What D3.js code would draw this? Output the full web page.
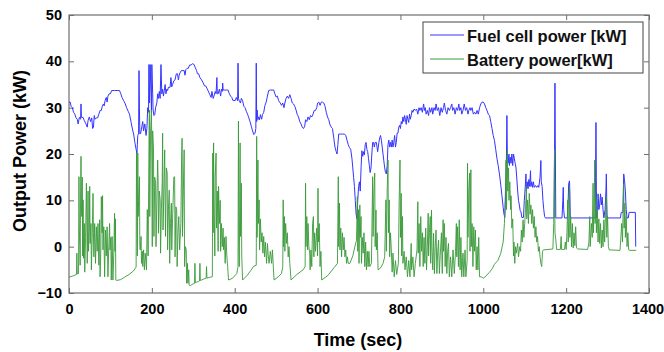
<!DOCTYPE html>
<html>
<head>
<meta charset="utf-8">
<script src="https://cdn.jsdelivr.net/npm/d3@7.9.0/dist/d3.min.js"></script>
<style>
  body { margin: 0; background: #fff; }
  svg { display: block; font-family: "Liberation Sans", Arial, sans-serif; }
</style>
</head>
<body>
<svg id="chart" width="664" height="352"></svg>
<script>
// axis ticks
const xTicks = [0, 200, 400, 600, 800, 1000, 1200, 1400];
const yTicks = [-10, 0, 10, 20, 30, 40, 50];
const seriesNames = ['Fuel cell power [kW]', 'Battery power[kW]'];

// fuel cell power, [time s, kW]
const fuelCell = [
  [0,31.2],[3,31.2],[5,30.3],[8,30],[11,29],[14,28.6],[17,27.8],[20,27.5],[22,26.5],[25,27.9],[28,27.5],[29,30.8],[30,27.9],
  [34,27.9],[37,27.2],[41,26.5],[44,25.8],[46,27.2],[49,28],[52,27],[55,27.8],[57,25.5],[59,25.8],[61,28.3],[63,27.5],
  [66,27.8],[69,27.8],[72,28.6],[75,29.4],[78,29.4],[80,30.2],[83,30.8],[85,30.4],[87,31.5],[90,32.2],[92,31.2],[94,32.5],
  [97,33],[100,33],[103,33.7],[110,33.7],[118,33.7],[122,33.7],[125,33],[128,32.2],[132,31.5],[136,30.8],[139,30],
  [143,29.2],[146,28.6],[150,26.8],[153,25.4],[156,24.3],[159,22.5],[162,21],[164,20],[165,22],[166,24],[168,24.5],
  [169,38],[170,30],[171,24.3],[173,24.5],[176,26],[178,27],[180,25],[183,26.5],[186,24],[188,25.5],[190,30],[192,29],
  [193,39.3],[194,31],[196,39.3],[198,33],[199,29],[200,39.3],[202,33],[203,29.5],[205,28.3],[207,28.5],[209,30],
  [212,31],[214,33],[216,32],[218,33.5],[220,32],[222,39.3],[224,33],[226,34],[228,32.5],[230,33.7],[232,35],[234,33],
  [236,34],[238,33.7],[240,34.4],[244,34.4],[246,36.5],[248,34.5],[250,35],[253,35.8],[256,36],[259,37.3],[262,37.3],
  [264,36],[266,37],[268,37.5],[271,38],[275,38],[278,38],[280,37],[282,38.2],[285,38.5],[288,38.5],[291,39.2],
  [295,39.2],[298,39.5],[302,39.3],[305,38.6],[308,38],[310,37.3],[313,37.3],[316,36.5],[320,36],[323,35.5],[327,34.7],
  [330,34.7],[334,34],[337,33.4],[340,32.8],[343,32.2],[345,33.5],[348,32],[350,32.5],[353,33.5],[355,33],[357,36.5],
  [358,33],[360,33],[363,34],[366,32.5],[368,34],[370,33.5],[371,35.3],[372,33.8],[376,33.8],[380,33.8],[384,33.8],
  [387,33],[390,32.5],[393,32.2],[396,31.5],[398,31.6],[401,31.5],[404,32.2],[407,31.5],[408,39.6],[409,32],[411,31.5],
  [414,31],[416,32],[419,31.5],[422,30.3],[425,30],[428,29.2],[431,28.6],[434,27.8],[437,27],[440,26],[443,25],
  [446,24.2],[449,24.5],[451,25.5],[452,39.6],[453,27],[454,29.5],[456,27.4],[458,28],[460,27.4],[462,28.5],[465,27.5],
  [467,28.5],[470,29],[473,30.5],[476,31.2],[479,32.5],[482,33.7],[486,33.8],[490,33.8],[494,33.8],[497,33],[500,32.3],
  [503,32.5],[506,31.5],[510,31],[513,30.5],[516,31],[519,30],[521,31],[524,32],[527,32.5],[530,32],[533,32.8],[536,32],
  [539,31],[542,30.8],[545,30.3],[548,29.5],[551,28.5],[554,28],[557,27],[560,26.5],[563,25.8],[566,25.5],[569,26],
  [571,27.4],[574,27],[577,28],[580,27.4],[583,28.3],[586,28],[589,28.6],[592,29.4],[595,29.4],[598,30],[600,31],
  [603,31.2],[606,30.5],[609,31.2],[612,31.2],[615,31],[618,30.3],[621,29],[624,28],[627,27.4],[630,26.3],[633,25.8],
  [636,25.5],[639,23.5],[642,21.5],[645,20.5],[647,20],[649,22],[651,24.3],[655,24.3],[660,24.3],[665,24.3],[668,24],
  [671,23],[674,22],[677,21.4],[680,21],[683,19],[685,17],[687,15],[689,13],[691,10],[693,7],[695,6],[697,10],[699,13],
  [701,14],[703,12],[705,17],[707,20.7],[709,19.5],[711,20.5],[713,19.8],[715,22],[717,22.5],[719,21],[721,20.5],
  [723,19],[725,17.5],[727,16],[729,17],[731,20],[733,22.5],[735,22.5],[737,21.5],[739,22.5],[742,22.5],[745,20.5],
  [748,22.5],[750,23.5],[752,24],[754,23],[756,21.5],[758,20],[760,18.5],[762,17],[764,16],[766,15.7],[768,17.5],
  [770,22],[772,23],[774,21.5],[776,22.5],[778,21.5],[780,23],[782,21.5],[784,22.5],[786,24],[788,21.5],[790,22.5],
  [792,24.5],[794,24.5],[796,25.8],[798,26.2],[800,25.5],[802,27],[804,26.5],[806,28],[808,27],[810,28.3],[812,27.5],
  [814,26.4],[816,28.3],[818,27.5],[820,26.8],[822,28.6],[824,27.5],[826,28.3],[828,29.4],[830,29],[833,29.7],
  [836,29.4],[839,29.7],[842,28.6],[845,30],[847,29.4],[850,30],[853,29],[856,30.8],[858,29.4],[860,30],[862,28.6],
  [865,29.4],[868,28.3],[870,30],[873,29],[876,30],[878,28.6],[881,30],[884,29.4],[886,30.8],[889,29.4],[892,30],
  [895,28.3],[898,30],[901,29],[904,30],[906,31],[909,29.4],[912,28.6],[915,30],[918,29.4],[921,30],[924,30.8],
  [926,29.4],[929,30],[932,28.6],[935,30],[938,29.4],[941,30.8],[943,29.4],[946,30],[948,28.6],[951,29.4],[954,30.8],
  [957,29.4],[960,30],[963,28.6],[965,29.4],[968,30],[970,29.4],[973,30],[976,28.6],[979,29],[982,28.6],[985,29.4],
  [988,28.6],[991,30],[994,30.8],[997,31.2],[1000,31.2],[1003,30.8],[1006,30],[1009,29.4],[1012,28.6],[1015,28.3],
  [1018,27],[1021,25.5],[1024,24],[1027,22.9],[1030,21],[1033,19],[1036,17.5],[1039,15.7],[1042,13.5],[1045,11],
  [1048,8.5],[1050,7],[1052,6.3],[1054,12],[1056,20],[1057,28.3],[1058,20],[1060,18],[1062,20],[1063,17.5],[1065,19.3],
  [1067,18],[1069,20],[1071,17.5],[1073,20],[1075,19],[1077,18],[1079,17],[1081,14.6],[1083,12],[1085,10],[1087,9],
  [1089,7.8],[1091,7.5],[1093,6.3],[1097,6.3],[1099,10],[1101,12.5],[1103,15.7],[1104,12],[1106,14],[1108,12.5],
  [1110,14.5],[1112,13],[1114,16.4],[1115,13],[1117,14],[1119,12.8],[1121,14],[1123,12.8],[1126,13.2],[1129,12.8],
  [1132,13.2],[1134,12.8],[1137,15],[1139,18.6],[1140,14],[1142,13],[1144,10],[1146,8],[1148,6.5],[1150,6.2],
  [1171,6.2],[1172,20],[1173,35.3],[1174,20],[1175,6.2],[1190,6.2],[1192,10],[1193,12.8],[1194,8],[1196,6.2],
  [1203,6.2],[1205,10],[1206,13.5],[1208,14.2],[1209,12],[1210,6.2],[1270,6.2],[1271,15],[1272,26.8],[1273,12],
  [1274,6.2],[1276,8],[1277,11.4],[1279,8],[1281,9],[1283,11.4],[1285,9],[1287,10.7],[1289,8],[1291,6.2],[1294,8],
  [1296,12],[1297,15.7],[1298,10],[1299,6.2],[1331,6.2],[1333,7.4],[1337,7.4],[1338,12],[1339,15.7],[1341,14.2],
  [1343,12],[1345,8],[1347,6.2],[1350,6.2],[1352,7.4],[1367,7.4],[1368,0]
];

// battery power, [time s, kW]
const battery = [
  [0,-6.6],[10,-6.3],[18,-6.0],[19,-1.4],[20,-5.9],[23,-5.8],[24,15.1],[25,4],[26,0],[27,-4],[28,12],[29,19.5],[30,8],
  [31,6.5],[32,15],[33,-2],[34,10.1],[35,-2.5],[37,5],[38,-5.5],[40,2],[42,13.7],[43,6],[44,-3.6],[46,12],[47,-1],
  [49,4],[50,13],[51,0.7],[53,5],[54,-5],[56,2],[58,11.5],[59,3],[60,-2.2],[62,5],[64,-3.6],[66,4.3],[68,-1],[70,5],
  [72,-4],[74,5.8],[75,-6.5],[77,0],[78,10.8],[80,3],[81,11],[82,-0.7],[84,4.3],[86,-6.5],[88,3.6],[90,-2],[92,4.3],
  [94,-6.5],[96,0],[98,5],[99,-0.7],[101,2],[102,-7.2],[104,2.2],[106,-7.2],[108,-2],[110,7.2],[111,-1],[112,6],
  [113,-7.2],[115,-7.3],[125,-7.1],[134,-6.6],[145,-6.0],[155,-5.3],[162,-4.4],
  [163,20.2],[164,8],[165,-2],[166,20.2],[167,6.5],[168,10],[170,15.1],[171,0],[172,-0.7],[174,2.2],[175,-3.6],
  [177,-1],[178,-4.3],[180,-0.7],[182,-5],[184,-1.4],[186,-3.6],[187,-5],[189,8],[191,-2],[193,22],[194,29.5],
  [195,6.5],[197,25],[199,29.5],[200,18],[201,0],[202,25],[204,20.9],[205,2.2],[207,15],[209,13.7],[210,0],[212,10],
  [214,18.7],[215,15],[216,2.9],[218,12],[220,10.1],[221,-1.4],[223,8],[225,14],[226,24.5],[227,3.6],[229,12],
  [231,20.9],[232,10],[233,2.2],[235,17],[237,16],[238,-0.7],[240,8],[242,12.2],[243,-3.6],[245,5],[247,9.4],
  [248,-0.7],[250,6],[253,15],[255,15.1],[256,-2.2],[258,8.6],[260,7.9],[261,-4.3],[263,3],[265,6.5],[267,-0.7],
  [270,5],[272,20],[273,23.4],[274,2.2],[276,12],[278,20.9],[279,-4.3],[281,0],[283,-0.7],[284,-7.9],[286,-3.6],
  [287,-7.9],[289,-5],[290,-8.3],[293,-8.4],[300,-8.0],[303,-7.9],[304,-3.6],[305,-7.8],[312,-7.5],[315,-7.4],
  [316,-3.6],[317,-7.3],[325,-7.0],[331,-6.8],[332,-4.3],[333,-6.8],[340,-6.6],[346,-6.5],
  [347,20.2],[348,3],[349,22.4],[350,10],[352,-2],[353,15],[355,20.2],[356,4],[358,12],[360,-1],[361,13],[363,5],
  [365,10],[366,-1],[368,5],[370,0],[372,4],[373,-0.7],[375,2],[377,-3.6],[379,2.2],[381,-2],[383,-4.3],[385,-7.2],
  [395,-6.8],[405,-5.8],[408,-4.3],[409,27.1],[410,0],[411,-4.3],[413,22.4],[414,2.2],[416,13.7],[417,-2.2],
  [419,-7.2],[430,-6.2],[440,-5.0],[445,-4.3],[452,-4],[453,23.8],[454,2],[456,18.7],[457,5],[459,10.1],[460,-0.7],
  [462,6],[464,1],[466,3],[468,-1.4],[470,2.2],[472,-2.2],[474,1],[477,-3.6],[479,0.7],[481,-2],[483,-3.6],[486,-1],
  [489,-3.6],[491,-0.7],[493,-4],[495,-7.2],[505,-6.5],[513,-5.8],[516,-4.3],[517,10.1],[518,0],[520,6.5],[521,-1],
  [523,5],[525,0.7],[527,3],[529,-2.2],[531,0],[533,-3.6],[536,-7.2],[550,-6.0],[565,-5.0],[570,-4.3],[571,13.7],
  [572,0],[574,6.5],[576,-0.7],[577,5],[579,0],[581,-1.5],[582,-5],[584,-0.7],[586,-4.3],[588,5],[590,6.5],[591,-2.2],
  [593,3],[595,-1],[598,4],[600,-2],[601,12.6],[602,1],[604,5],[606,-4.3],[608,-1],[610,-7.2],[625,-6.2],[640,-4.5],
  [648,-3.6],[650,15.1],[651,0],[653,9.4],[654,-0.7],[656,4],[658,-2.2],[660,3],[662,-0.7],[664,2],[666,-2.2],
  [668,-0.7],[670,-3.6],[672,-2.2],[674,-3.6],[678,-3.6],[685,-2],[690,0],[694,1.4],
  [696,10.8],[697,-1],[699,8],[700,-3.6],[702,9],[703,2],[705,6.5],[706,-3.6],[708,2],[710,-1.4],[712,3],[714,-4.3],
  [716,1],[718,-5.0],[720,-1],[722,-4.3],[724,-1],[726,-4.3],[730,-3.6],[733,15.1],[734,2.2],[736,12],[738,15.9],
  [739,0],[741,7.9],[742,-0.7],[744,3],[746,-5.0],[752,-4.6],[758,-3.6],[762,-2.2],[765,10.1],[766,-1],[768,12],
  [770,18.7],[771,3],[773,10.1],[774,-2.2],[776,3],[778,-0.7],[780,-5.5],[782,-1.4],[785,-6.5],[788,-3],[791,-6],
  [795,-3.6],[797,10],[799,18.7],[800,2],[802,11.5],[803,-2],[805,6.5],[806,-3.6],[809,-1],[811,-5],[814,-2.2],
  [817,-6.5],[820,-3],[823,-6.5],[826,0.7],[827,-5],[830,-2.2],[833,-6.5],[836,-3.6],[840,-0.7],[842,9.7],[843,-1.4],
  [845,5],[847,-4.3],[849,6.5],[851,-1],[853,3],[855,-4.3],[857,2],[859,-3.6],[861,4],[863,-5],[865,0],[867,7.2],
  [868,-2],[870,3],[872,6.5],[873,-3.6],[875,7.9],[876,0],[878,-5],[880,2.9],[882,-5.8],[884,0],[886,3.6],[888,-5.8],
  [890,-1],[892,1.4],[894,-5.8],[896,-2],[899,3],[901,-5.8],[903,5.8],[904,-1],[906,5],[908,-4.3],[910,2],[912,-5.8],
  [914,-1],[916,0.7],[918,-6.5],[921,-2.2],[924,-6.5],[927,-0.7],[930,-5.8],[933,-1],[935,5],[936,-2.2],[938,4.3],
  [940,-4.3],[942,5.8],[944,-5],[946,2],[948,-6.5],[951,-1.4],[953,-6.5],[956,-0.7],[958,-6.5],[961,-3],[962,18],
  [963,2],[965,12],[967,15.9],[968,-1],[970,16.6],[971,0],[973,5],[975,-4.3],[977,4.3],[979,-1],[981,3.6],[983,-5],
  [985,0],[987,-5],[989,2],[991,-6.5],[995,-6.5],[1000,-6.8],[1007,-6.3],[1015,-5.5],[1022,-4.7],[1027,-3.8],
  [1035,-3.0],[1042,-1.5],[1048,1],[1051,5],[1053,10],[1055,18.7],[1056,8],[1058,20.9],[1059,12],[1061,17],[1062,10],
  [1064,14],[1066,8],[1067,11],[1069,4],[1071,6],[1073,-2],[1074,1],[1076,-3.6],[1078,0],[1080,-1.4],[1083,0.7],
  [1085,-2.2],[1088,0],[1090,-1],[1092,3.6],[1094,1],[1096,5.8],[1098,2],[1100,5],[1102,8],[1104,13],[1105,6],
  [1107,10.1],[1109,5],[1111,11.5],[1113,7],[1115,9],[1117,5],[1119,8],[1121,4],[1123,6.5],[1125,2],[1127,4.3],
  [1129,1],[1131,2.2],[1133,-1],[1135,0],[1137,-2.2],[1139,-3.6],[1141,-4.3],[1143,-1],[1145,-0.7],[1168,-0.5],
  [1170,5],[1172,20.9],[1173,3],[1175,1.5],[1177,-0.6],[1186,-0.6],[1188,2.2],[1189,-0.6],[1196,-0.6],[1198,1],
  [1200,-0.6],[1202,3],[1204,10.1],[1205,1],[1207,8],[1208,13],[1209,2],[1211,6.5],[1213,0],[1215,5],[1217,-0.3],
  [1219,3],[1221,0.2],[1223,4.3],[1225,-0.3],[1228,-0.5],[1252,-0.6],[1255,1],[1257,6.5],[1258,0],[1261,5],[1263,2],
  [1265,13.7],[1266,3],[1268,10],[1269,18.7],[1270,5],[1272,10.8],[1273,3],[1275,7.9],[1277,1],[1279,6],[1281,0.7],
  [1283,5],[1285,-0.3],[1287,3.6],[1289,0],[1291,5.8],[1293,1],[1295,7],[1297,10.8],[1298,2],[1300,6.5],[1302,0],
  [1304,-0.7],[1330,-0.8],[1332,2],[1334,5],[1336,1],[1338,10],[1339,13.6],[1340,4],[1342,9.4],[1343,2],[1345,6.5],
  [1347,0],[1349,3],[1351,-0.7],[1353,-0.8],[1369,-0.8]
];

const colors = ['#3434ff', '#3a9a3a'];

const svg = d3.select('#chart');
const margin = { top: 15, right: 15, bottom: 59, left: 69 };
const width = 664 - margin.left - margin.right;
const height = 352 - margin.top - margin.bottom;

const x = d3.scaleLinear().domain([0, 1400]).range([margin.left, margin.left + width]);
const y = d3.scaleLinear().domain([-10, 50]).range([margin.top + height, margin.top]);

svg.append('defs').append('clipPath').attr('id', 'plot-clip')
  .append('rect')
  .attr('x', margin.left).attr('y', margin.top)
  .attr('width', width).attr('height', height);

// axes, ticks pointing inward on all four sides
const axisColor = '#6e6e6e';
const styleAxis = (g) => {
  g.select('.domain').remove();
  g.selectAll('.tick line').attr('stroke', axisColor);
  g.selectAll('.tick text')
    .attr('fill', '#000')
    .style('font-size', '14.5px')
    .style('font-weight', 'bold');
};

svg.append('g')
  .attr('transform', `translate(0,${margin.top + height})`)
  .call(d3.axisBottom(x).tickValues(xTicks).tickSize(-5).tickPadding(11).tickFormat(d3.format('d')))
  .call(styleAxis);

// keep the last label inside the page
svg.selectAll('.tick text').filter((d) => d === 1400).attr('dx', '-0.1em');

svg.append('g')
  .attr('transform', `translate(0,${margin.top})`)
  .call(d3.axisTop(x).tickValues(xTicks).tickSize(-5).tickFormat(''))
  .call(styleAxis);

svg.append('g')
  .attr('transform', `translate(${margin.left},0)`)
  .call(d3.axisLeft(y).tickValues(yTicks).tickSize(-5).tickPadding(7).tickFormat(d3.format('d')))
  .call(styleAxis);

svg.append('g')
  .attr('transform', `translate(${margin.left + width},0)`)
  .call(d3.axisRight(y).tickValues(yTicks).tickSize(-5).tickFormat(''))
  .call(styleAxis);

svg.append('rect')
  .attr('x', margin.left).attr('y', margin.top)
  .attr('width', width).attr('height', height)
  .attr('fill', 'none')
  .attr('stroke', axisColor)
  .attr('stroke-width', 1.2);

// series
const line = d3.line().x((d) => x(d[0])).y((d) => y(d[1]));
const plot = svg.append('g').attr('clip-path', 'url(#plot-clip)');

[fuelCell, battery].forEach((series, i) => {
  plot.append('path')
    .datum(series)
    .attr('d', line)
    .attr('fill', 'none')
    .attr('stroke', colors[i])
    .attr('stroke-width', i === 0 ? 1 : 0.9)
    .attr('stroke-linejoin', 'round');
});

// axis titles
svg.append('text')
  .attr('x', 358).attr('y', 346)
  .attr('text-anchor', 'middle')
  .style('font-size', '18px').style('font-weight', 'bold')
  .text('Time (sec)');

svg.append('text')
  .attr('transform', 'translate(26,151) rotate(-90)')
  .attr('text-anchor', 'middle')
  .style('font-size', '18px').style('font-weight', 'bold')
  .text('Output Power (kW)');

// legend
const legend = svg.append('g').attr('transform', 'translate(423,22)');
legend.append('rect')
  .attr('width', 220).attr('height', 51)
  .attr('fill', '#fff')
  .attr('stroke', '#444')
  .attr('stroke-width', 1);

seriesNames.forEach((name, i) => {
  const row = legend.append('g').attr('transform', `translate(0,${13 + i * 24})`);
  row.append('line')
    .attr('x1', 7).attr('x2', 41)
    .attr('stroke', colors[i]).attr('stroke-width', 1);
  row.append('text')
    .attr('x', 44).attr('y', 7)
    .style('font-size', '16.5px')
    .style('font-weight', 'bold')
    .attr('fill', '#111')
    .text(name);
});
</script>
</body>
</html>
